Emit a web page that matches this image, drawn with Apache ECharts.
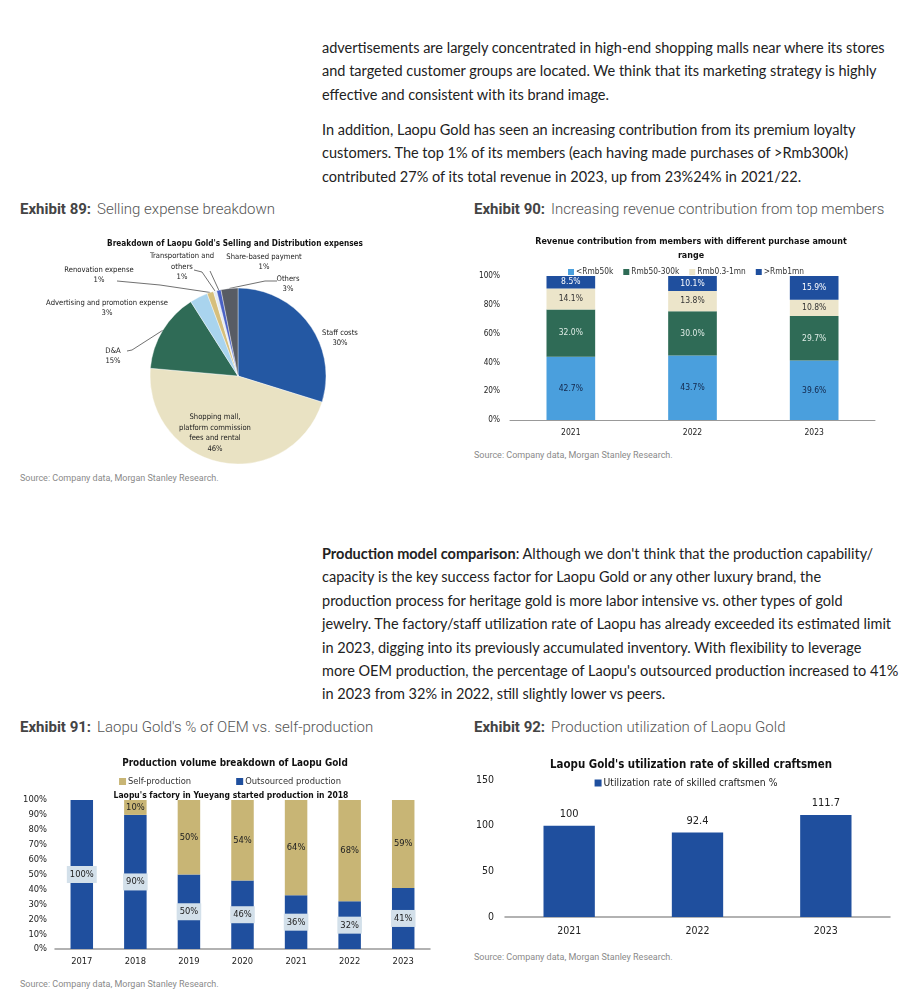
<!DOCTYPE html>
<html>
<head>
<meta charset="utf-8">
<script src="https://cdn.jsdelivr.net/npm/echarts@6/dist/echarts.min.js"></script>
<style>
  html, body { margin: 0; padding: 0; background: #fff; }
  body { width: 912px; height: 1008px; position: relative; overflow: hidden; }
  .para { position: absolute; left: 322px; font-family: Lato, "Noto Sans", sans-serif; font-size: 14.5px; color: #222; line-height: 23.4px; white-space: nowrap; }
  .exh { position: absolute; font-family: Roboto, "Liberation Sans", sans-serif; font-size: 15px; color: #555; white-space: nowrap; }
  .exh b { color: #444; font-weight: 700; }
  .exh span { font-weight: 300; margin-left: 6px; }
  .src { position: absolute; font-family: Roboto, "Liberation Sans", sans-serif; font-size: 9px; color: #8a8a8a; white-space: nowrap; }
  .chart { position: absolute; }
</style>
</head>
<body>
<div class="para" style="top:36px;">advertisements are largely concentrated in high-end shopping malls near where its stores<br>and targeted customer groups are located. We think that its marketing strategy is highly<br>effective and consistent with its brand image.</div>
<div class="para" style="top:118px;">In addition, Laopu Gold has seen an increasing contribution from its premium loyalty<br>customers. The top 1% of its members (each having made purchases of &gt;Rmb300k)<br>contributed 27% of its total revenue in 2023, up from 23%24% in 2021/22.</div>

<div class="exh" style="left:20px; top:200px;"><b>Exhibit 89:</b><span>Selling expense breakdown</span></div>
<div class="exh" style="left:474px; top:200px;"><b>Exhibit 90:</b><span>Increasing revenue contribution from top members</span></div>

<div id="c1" class="chart" style="left:0px; top:225px; width:460px; height:245px;"></div>
<div id="c2" class="chart" style="left:460px; top:225px; width:452px; height:220px;"></div>

<div class="src" style="left:20px; top:473px;">Source: Company data, Morgan Stanley Research.</div>
<div class="src" style="left:474px; top:450px;">Source: Company data, Morgan Stanley Research.</div>

<div class="para" style="top:542px;"><b>Production model comparison</b>: Although we don't think that the production capability/<br>capacity is the key success factor for Laopu Gold or any other luxury brand, the<br>production process for heritage gold is more labor intensive vs. other types of gold<br>jewelry. The factory/staff utilization rate of Laopu has already exceeded its estimated limit<br>in 2023, digging into its previously accumulated inventory. With flexibility to leverage<br>more OEM production, the percentage of Laopu's outsourced production increased to 41%<br>in 2023 from 32% in 2022, still slightly lower vs peers.</div>

<div class="exh" style="left:20px; top:718px;"><b>Exhibit 91:</b><span>Laopu Gold's % of OEM vs. self-production</span></div>
<div class="exh" style="left:474px; top:718px;"><b>Exhibit 92:</b><span>Production utilization of Laopu Gold</span></div>

<div id="c3" class="chart" style="left:0px; top:745px; width:460px; height:230px;"></div>
<div id="c4" class="chart" style="left:460px; top:745px; width:452px; height:200px;"></div>

<div class="src" style="left:20px; top:979px;">Source: Company data, Morgan Stanley Research.</div>
<div class="src" style="left:474px; top:952px;">Source: Company data, Morgan Stanley Research.</div>

<script>
// ---------- Data ----------
// Exhibit 89: selling expense breakdown (%)
const expenseCategories = ['Staff costs', 'Shopping mall,\nplatform commission\nfees and rental', 'D&A', 'Advertising and promotion expense', 'Renovation expense', 'Transportation and\nothers', 'Share-based payment', 'Others'];
const expenseShares = [29.8, 46.6, 14.6, 3.3, 1.2, 0.6, 0.8, 3.1];
const expenseLabels = ['30%', '46%', '15%', '3%', '1%', '1%', '1%', '3%'];

// Exhibit 90: revenue contribution by member purchase range (%)
const memberYears = ['2021', '2022', '2023'];
const memberSeriesNames = ['<Rmb50k', 'Rmb50-300k', 'Rmb0.3-1mn', '>Rmb1mn'];
const lt50k = [42.7, 43.7, 39.6];
const r50to300k = [32.0, 30.0, 29.7];
const r03to1mn = [14.1, 13.8, 10.8];
const gt1mn = [8.5, 10.1, 15.9];

// Exhibit 91: production volume breakdown (%)
const prodYears = ['2017', '2018', '2019', '2020', '2021', '2022', '2023'];
const selfProduction = [0, 10, 50, 54, 64, 68, 59];
const outsourcedProduction = [100, 90, 50, 46, 36, 32, 41];

// Exhibit 92: utilization rate of skilled craftsmen (%)
const utilYears = ['2021', '2022', '2023'];
const utilRate = [100, 92.4, 111.7];

// ---------- Styles ----------
const FONT = '"DejaVu Sans Condensed", "Liberation Sans Narrow", Roboto, sans-serif';
const DARKBLUE = '#1f4f9e';

// Pie label placement (style only): label centre and leader elbow/end points, in chart px
const pieLabelStyle = [
  {c: [340, 113]},
  {c: [215, 208]},
  {c: [113, 131], line: [[132, 125], [127, 126]]},
  {c: [107, 83]},
  {c: [99, 50], line: [[160, 60], [117, 56]]},
  {c: [182, 42], line: [[202, 47], [194, 45]]},
  {c: [264, 37], line: [[210, 46], [210, 46]]},
  {c: [288, 59], line: [[265, 56], [277, 56]]}
];

// ---------- Chart 1: pie ----------
const c1 = echarts.init(document.getElementById('c1'));
const pieColors = ['#2458a3', '#e9e2c3', '#2f6b56', '#a9d4ee', '#d6bf7c', '#e6ecf2', '#4a62c6', '#585c64'];
c1.setOption({
  animation: false,
  textStyle: {fontFamily: FONT},
  title: {
    text: "Breakdown of Laopu Gold's Selling and Distribution expenses",
    left: 230, top: 10, textAlign: 'center',
    textStyle: {fontFamily: FONT, fontSize: 8.2, fontWeight: 'bold', color: '#111'}
  },
  series: [{
    type: 'pie',
    center: [238, 151],
    radius: 88,
    startAngle: 90,
    clockwise: true,
    avoidLabelOverlap: false,
    label: {
      show: true, position: 'outside', fontFamily: FONT, fontSize: 7.6, color: '#222', lineHeight: 10.5, align: 'center',
      formatter: p => p.name + '\n' + expenseLabels[p.dataIndex]
    },
    labelLine: {show: true, length: 10, length2: 20, lineStyle: {color: '#333', width: 0.7}},
    labelLayout: function (params) {
      const s = pieLabelStyle[params.dataIndex];
      const out = {x: s.c[0], y: s.c[1], align: 'center', verticalAlign: 'middle'};
      if (s.line && params.labelLinePoints) {
        out.labelLinePoints = [params.labelLinePoints[0], s.line[0], s.line[1]];
      }
      return out;
    },
    itemStyle: {borderColor: '#fff', borderWidth: 0.4},
    data: expenseCategories.map((n, i) => {
      const d = {name: n, value: expenseShares[i], itemStyle: {color: pieColors[i]}};
      if (!pieLabelStyle[i].line) { d.labelLine = {show: false}; }
      if (i === 1) { d.label = {position: 'inside'}; }
      return d;
    })
  }]
});

// ---------- Chart 2: 100% stacked bar ----------
const c2 = echarts.init(document.getElementById('c2'));
const memberRaw = [lt50k, r50to300k, r03to1mn, gt1mn];
const memberTotals = memberYears.map((_, j) => memberRaw.reduce((s, arr) => s + arr[j], 0));
const memberColors = ['#4a9fdd', '#2f6b56', '#ece5ca', '#1f4f9e'];
const memberLabelColors = ['#13264a', '#dfece6', '#333', '#fff'];
c2.setOption({
  animation: false,
  textStyle: {fontFamily: FONT},
  title: {
    text: 'Revenue contribution from members with different purchase amount\nrange',
    left: 226, top: 5, textAlign: 'center',
    textStyle: {fontFamily: FONT, fontSize: 8.9, fontWeight: 'bold', color: '#111', lineHeight: 14}
  },
  legend: {
    top: 38, left: 'center', itemWidth: 6, itemHeight: 6, itemGap: 10, icon: 'rect',
    textStyle: {fontFamily: FONT, fontSize: 8.3, color: '#333', padding: [0, 0, 0, -3]},
    data: memberSeriesNames
  },
  grid: {left: 50, right: 37, top: 51, bottom: 25, containLabel: false},
  xAxis: {
    type: 'category', data: memberYears,
    axisLine: {lineStyle: {color: '#999', width: 1}}, axisTick: {show: false},
    axisLabel: {fontFamily: FONT, fontSize: 8.5, color: '#222', margin: 8}
  },
  yAxis: {
    type: 'value', min: 0, max: 100, interval: 20,
    axisLine: {show: false}, axisTick: {show: false}, splitLine: {show: false},
    axisLabel: {fontFamily: FONT, fontSize: 8.2, color: '#222', formatter: '{value}%', margin: 10}
  },
  series: memberRaw.map((arr, i) => ({
    name: memberSeriesNames[i], type: 'bar', stack: 'total', barWidth: '40%',
    itemStyle: {color: memberColors[i]},
    label: {
      show: true, position: 'inside', fontFamily: FONT, fontSize: 8.5, color: memberLabelColors[i],
      formatter: p => p.data.raw.toFixed(1) + '%'
    },
    data: arr.map((v, j) => ({value: v / memberTotals[j] * 100, raw: v}))
  }))
});

// ---------- Chart 3: stacked production bars ----------
const c3 = echarts.init(document.getElementById('c3'));
c3.setOption({
  animation: false,
  textStyle: {fontFamily: FONT},
  title: [{
    text: 'Production volume breakdown of Laopu Gold',
    left: 230, top: 8, textAlign: 'center',
    textStyle: {fontFamily: FONT, fontSize: 9.9, fontWeight: 'bold', color: '#111'}
  }, {
    text: "Laopu's factory in Yueyang started production in 2018",
    left: 226, top: 41, textAlign: 'center',
    textStyle: {fontFamily: FONT, fontSize: 8.5, fontWeight: 'bold', color: '#111'}
  }],
  legend: {
    top: 27, left: 'center', itemWidth: 7, itemHeight: 7, itemGap: 45, icon: 'rect',
    textStyle: {fontFamily: FONT, fontSize: 9.3, color: '#333', padding: [0, 0, 0, -3]},
    data: ['Self-production', 'Outsourced production']
  },
  grid: {left: 55, right: 30, top: 55, bottom: 26},
  xAxis: {
    type: 'category', data: prodYears,
    axisLine: {lineStyle: {color: '#999', width: 1.5}}, axisTick: {show: false},
    axisLabel: {fontFamily: FONT, fontSize: 9.3, color: '#222', margin: 8}
  },
  yAxis: {
    type: 'value', min: 0, max: 100, interval: 10,
    axisLine: {show: false}, axisTick: {show: false}, splitLine: {show: false},
    axisLabel: {fontFamily: FONT, fontSize: 9.3, color: '#222', formatter: '{value}%', margin: 8}
  },
  series: [{
    name: 'Outsourced production', type: 'bar', stack: 'p', barWidth: '42%',
    itemStyle: {color: DARKBLUE},
    label: {
      show: true, position: 'inside', fontFamily: FONT, fontSize: 9.3, color: '#222',
      backgroundColor: '#d3e0ea', padding: [4, 3], formatter: p => p.value ? p.value + '%' : ''
    },
    data: outsourcedProduction
  }, {
    name: 'Self-production', type: 'bar', stack: 'p', barWidth: '42%',
    itemStyle: {color: '#c8b575'},
    label: {
      show: true, position: 'inside', fontFamily: FONT, fontSize: 9.3, color: '#222',
      formatter: p => p.value ? p.value + '%' : ''
    },
    data: selfProduction
  }]
});

// ---------- Chart 4: utilization ----------
const c4 = echarts.init(document.getElementById('c4'));
c4.setOption({
  animation: false,
  textStyle: {fontFamily: FONT},
  title: {
    text: "Laopu Gold's utilization rate of skilled craftsmen",
    left: 226, top: 10, textAlign: 'center',
    textStyle: {fontFamily: FONT, fontSize: 11.4, fontWeight: 'bold', color: '#111'}
  },
  legend: {
    top: 28, left: 'center', itemWidth: 7, itemHeight: 7, icon: 'rect',
    textStyle: {fontFamily: FONT, fontSize: 10.3, color: '#222', padding: [0, 0, 0, -3]},
    data: ['Utilization rate of skilled craftsmen %']
  },
  grid: {left: 45, right: 22, top: 35, bottom: 28},
  xAxis: {
    type: 'category', data: utilYears,
    axisLine: {lineStyle: {color: '#999', width: 1.5}}, axisTick: {show: false},
    axisLabel: {fontFamily: FONT, fontSize: 10.5, color: '#222', margin: 9}
  },
  yAxis: {
    type: 'value', min: 0, max: 150, interval: 50,
    axisLine: {show: false}, axisTick: {show: false}, splitLine: {show: false},
    axisLabel: {fontFamily: FONT, fontSize: 10.5, color: '#222', margin: 11}
  },
  series: [{
    name: 'Utilization rate of skilled craftsmen %', type: 'bar', barWidth: '40%',
    itemStyle: {color: DARKBLUE},
    label: {show: true, position: 'top', distance: 6, fontFamily: FONT, fontSize: 11, color: '#222'},
    data: utilRate
  }]
});
</script>
</body>
</html>
